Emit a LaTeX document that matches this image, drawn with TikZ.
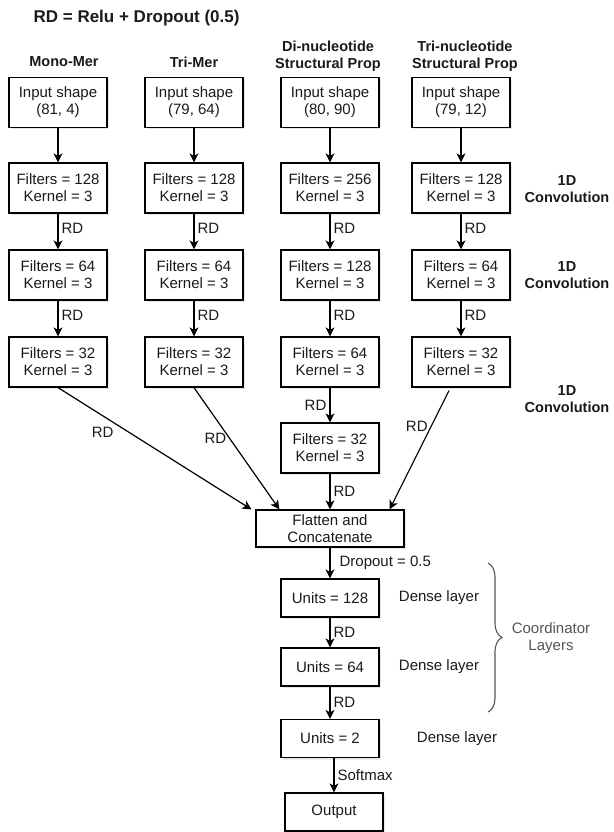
\documentclass[tikz,border=0pt]{standalone}
\usepackage{fontspec}
\setmainfont{Liberation Sans}
\usetikzlibrary{arrows.meta,shadows,decorations.pathreplacing}
\definecolor{ink}{HTML}{1A1A1A}
\definecolor{bracegray}{HTML}{555555}

\begin{document}
\begin{tikzpicture}[x=1pt,y=-1pt,line width=1.2pt,
        >={Stealth[length=9pt,width=9pt,inset=2.5pt]},
        every node/.style={text=ink,font=\fontsize{15}{17}\selectfont},
        layer/.style={draw=black,line width=1.2pt,fill=white,align=center,
            minimum width=98pt,minimum height=50pt,inner sep=0pt,
            drop shadow={opacity=0.18,shadow xshift=2pt,shadow yshift=-2pt}},
        dense/.style={layer,minimum height=38pt},
        head/.style={align=center,font=\fontsize{14.5}{17}\selectfont\bfseries},
        rd/.style={right,inner sep=3pt}]
            \useasboundingbox (0,0) rectangle (613,832);

            \node[anchor=west,inner sep=0pt,font=\fontsize{17}{20}\selectfont\bfseries] (Title) at (33,18) {RD = Relu + Dropout (0.5)};

            \node[head] (H1) at (64,62) {Mono-Mer};
            \node[head] (H2) at (194,62) {Tri-Mer};
            \node[head] (H3) at (328,56) {Di-nucleotide\\Structural Prop};
            \node[head] (H4) at (465,56) {Tri-nucleotide\\Structural Prop};

            \node[layer] (In1) at (58,102.5) {Input shape\\(81, 4)};
            \node[layer] (In2) at (194,102.5) {Input shape\\(79, 64)};
            \node[layer] (In3) at (330,102.5) {Input shape\\(80, 90)};
            \node[layer] (In4) at (461,102.5) {Input shape\\(79, 12)};

            \node[layer] (Fa1) at (58,188) {Filters = 128\\Kernel = 3};
            \node[layer] (Fa2) at (194,188) {Filters = 128\\Kernel = 3};
            \node[layer] (Fa3) at (330,188) {Filters = 256\\Kernel = 3};
            \node[layer] (Fa4) at (461,188) {Filters = 128\\Kernel = 3};

            \node[layer] (Fb1) at (58,275) {Filters = 64\\Kernel = 3};
            \node[layer] (Fb2) at (194,275) {Filters = 64\\Kernel = 3};
            \node[layer] (Fb3) at (330,275) {Filters = 128\\Kernel = 3};
            \node[layer] (Fb4) at (461,275) {Filters = 64\\Kernel = 3};

            \node[layer] (Fc1) at (58,362) {Filters = 32\\Kernel = 3};
            \node[layer] (Fc2) at (194,362) {Filters = 32\\Kernel = 3};
            \node[layer] (Fc3) at (330,362) {Filters = 64\\Kernel = 3};
            \node[layer] (Fc4) at (461,362) {Filters = 32\\Kernel = 3};

            \node[layer] (Fd3) at (330,448) {Filters = 32\\Kernel = 3};

            \node[layer,minimum width=148pt,minimum height=37pt] (Cat) at (330,528.5) {Flatten and\\Concatenate};
            \node[dense] (Ua) at (330,598) {Units = 128};
            \node[dense] (Ub) at (330,667) {Units = 64};
            \node[dense] (Uc) at (330,738.5) {Units = 2};
            \node[dense] (Out) at (334,812) {Output};

            \node[head] (Conv1) at (567,189) {1D\\Convolution};
            \node[head] (Conv2) at (567,275.5) {1D\\Convolution};
            \node[head] (Conv3) at (567,399) {1D\\Convolution};

            \node (Den1) at (439,598) {Dense layer};
            \node (Den2) at (439,667) {Dense layer};
            \node (Den3) at (457,739) {Dense layer};

            \coordinate (BrTop) at (488,563);
            \coordinate (BrBot) at (488,712);
            \draw[bracegray,line width=1.1pt,decorate,decoration={brace,amplitude=14pt}] (BrTop) to (BrBot);
            \node[text=bracegray,align=center] (Coord) at (551,638) {Coordinator\\Layers};

            \draw[->] (In1) to (Fa1); \draw[->] (In2) to (Fa2); \draw[->] (In3) to (Fa3); \draw[->] (In4) to (Fa4);
            \draw[->] (Fa1) to node[rd,pos=0.4] {RD} (Fb1); \draw[->] (Fa2) to node[rd,pos=0.4] {RD} (Fb2);
            \draw[->] (Fa3) to node[rd,pos=0.4] {RD} (Fb3); \draw[->] (Fa4) to node[rd,pos=0.4] {RD} (Fb4);
            \draw[->] (Fb1) to node[rd,pos=0.4] {RD} (Fc1); \draw[->] (Fb2) to node[rd,pos=0.4] {RD} (Fc2);
            \draw[->] (Fb3) to node[rd,pos=0.4] {RD} (Fc3); \draw[->] (Fb4) to node[rd,pos=0.4] {RD} (Fc4);
            \draw[->] (Fc3) to node[left,inner sep=3pt] {RD} (Fd3);
            \draw[->] (Fd3) to node[rd] {RD} (Cat);
            \draw[->] (Fc1.south) to node[pos=0.3,below left,inner sep=2pt] {RD} ([xshift=-4pt]Cat.north west);
            \draw[->] (Fc2.south) to node[pos=0.42,left,inner sep=3pt] {RD} ([xshift=24pt]Cat.north west);
            \draw[->] ([xshift=-12pt,yshift=-3pt]Fc4.south) to node[pos=0.3,left,inner sep=3pt] {RD} ([xshift=-15pt]Cat.north east);
            \draw[->] (Cat) to node[rd,xshift=6pt] {Dropout = 0.5} (Ua);
            \draw[->] (Ua) to node[rd] {RD} (Ub);
            \draw[->] (Ub) to node[rd] {RD} (Uc);
            \draw[->] (Uc.south -| Out) to node[rd] {Softmax} (Out);
        \end{tikzpicture}
\end{document}
